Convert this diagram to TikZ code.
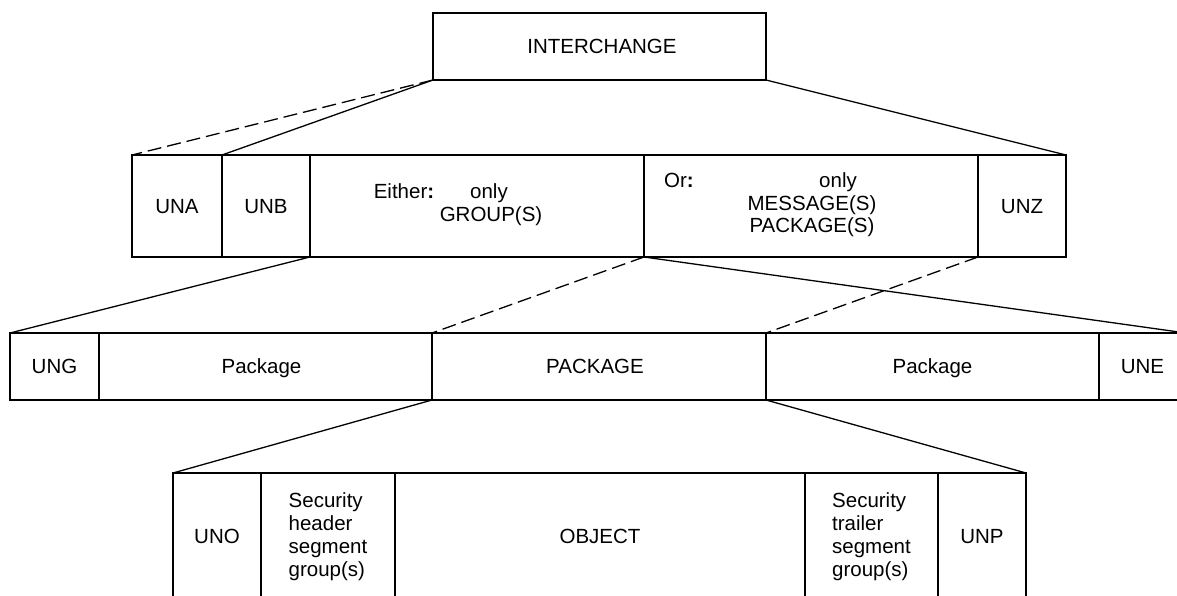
\documentclass[tikz,border=0pt]{standalone}
\usepackage{fontspec}
\setmainfont{Liberation Sans}
\usetikzlibrary{arrows}

\begin{document}
\begin{tikzpicture}[x=1pt, y=-1pt, line width=1.6pt, every node/.style={font=\fontsize{20.5}{23}\selectfont}]
\tikzset{cell/.style = {draw, rectangle, anchor=north west, inner sep=0pt, outer sep=0pt, align=center, text height=14.7pt, text depth=0pt}}
\tikzset{tallcell/.style = {draw, rectangle, anchor=north west, inner sep=0pt, outer sep=0pt, align=left}}
\tikzset{link/.style = {line width=1.3pt}}
\tikzset{alt/.style = {link, dash pattern=on 14pt off 6pt}}
\useasboundingbox (0,0) rectangle (1177,596);
% interchange
\node[cell, minimum width=333pt, minimum height=67pt] (ich) at (433,13) {\hspace{5pt}INTERCHANGE};
% level 1
\node[cell, minimum width=90pt, minimum height=102pt] (una) at (132,155) {UNA};
\node[cell, minimum width=88pt, minimum height=102pt] (unb) at (222,155) {UNB};
\node[cell, minimum width=334pt, minimum height=102pt] (either) at (310,155) {};
\node[cell, minimum width=334pt, minimum height=102pt] (or) at (644,155) {};
\node[cell, minimum width=88pt, minimum height=102pt] (unz) at (978,155) {UNZ};
\node[anchor=base] (eitherlbl) at (404,199) {Either\textbf{:}};
\node[anchor=base] (eitheronly) at (489,199) {only};
\node[anchor=base] (groups) at (491,221) {GROUP(S)};
\node[anchor=base] (orlbl) at (679,188) {Or\textbf{:}};
\node[anchor=base] (oronly) at (838,188) {only};
\node[anchor=base] (msgs) at (812,210) {MESSAGE(S)};
\node[anchor=base] (pkgs) at (812,232) {PACKAGE(S)};
% level 2
\node[cell, minimum width=89pt, minimum height=67pt] (ung) at (10,333) {UNG};
\node[cell, minimum width=333pt, minimum height=67pt] (pkga) at (99,333) {Package\hspace{8pt}};
\node[cell, minimum width=334pt, minimum height=67pt] (pkg) at (432,333) {PACKAGE\hspace{8pt}};
\node[cell, minimum width=333pt, minimum height=67pt] (pkgb) at (766,333) {Package};
\node[cell, minimum width=87pt, minimum height=67pt] (une) at (1099,333) {UNE};
% level 3
\node[cell, minimum width=88pt, minimum height=127pt] (uno) at (173,473) {UNO};
\node[tallcell, minimum width=134pt, minimum height=127pt] (sech) at (261,473) {Security\\header\\segment\\group(s)};
\node[cell, minimum width=410pt, minimum height=127pt] (obj) at (395,473) {OBJECT};
\node[tallcell, minimum width=133pt, minimum height=127pt] (sect) at (805,473) {Security\\trailer\\segment\\group(s)};
\node[cell, minimum width=88pt, minimum height=127pt] (unp) at (938,473) {UNP};
%edges
\draw[alt] (ich.south west) -- (una.north west);
\draw[link] (ich.south west) -- (unb.north west);
\draw[link] (ich.south east) -- (unz.north east);
%edges 1
\draw[link] (unb.south east) -- (ung.north west);
\draw[alt] (or.south west) -- (pkg.north west);
\draw[link] (or.south west) -- (une.north east);
\draw[alt] (or.south east) -- (pkgb.north west);
%edges 2
\draw[link] (pkg.south west) -- (uno.north west);
\draw[link] (pkg.south east) -- (unp.north east);

\end{tikzpicture}
\end{document}
